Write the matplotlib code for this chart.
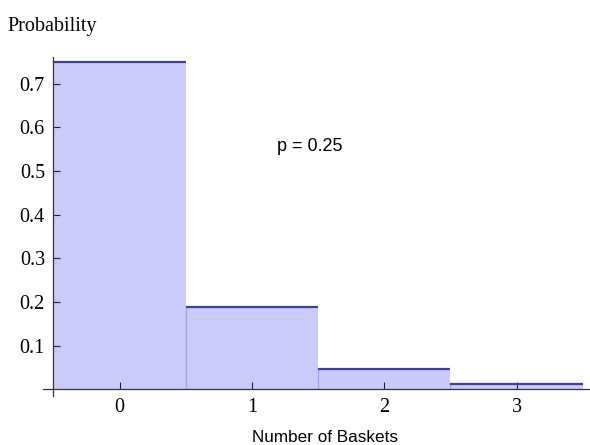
import numpy as np
import matplotlib.pyplot as plt

baskets = [0, 1, 2, 3]
prob = [0.75, 0.1875, 0.046875, 0.01171875]
yticks = [0.1, 0.2, 0.3, 0.4, 0.5, 0.6, 0.7]
xticks = [0, 1, 2, 3]

fill = '#cbcbfb'
top = '#3f3fa3'
side = '#a4a4ee'

fig = plt.figure(figsize=(5.9, 4.45), dpi=100)
ax = fig.add_axes([43 / 590, 49 / 445, 547 / 590, 339 / 445])

ax.bar(baskets, prob, width=1.0, color=fill, edgecolor='none', zorder=1)
x = np.array(baskets)
p = np.array(prob)
ax.hlines(p, x - 0.5, x + 0.5, color=top, lw=1.6, zorder=3)
ax.vlines(x[1:] - 0.5, 0, p[1:], color=side, lw=1.0, zorder=2)

ax.set_xlim(-0.578, 3.554)
ax.set_ylim(-0.0153, 0.761)

for s in ['top', 'right']:
    ax.spines[s].set_visible(False)
ax.spines['left'].set_position(('data', -0.5))
ax.spines['bottom'].set_position(('data', 0))
for s in ['left', 'bottom']:
    ax.spines[s].set_color('#333333')
    ax.spines[s].set_linewidth(0.9)
ax.spines['left'].set_zorder(4)

ax.set_xticks(xticks)
ax.set_yticks(yticks)
ax.set_yticklabels(['0.1', '0.2', '0.3', '0.4', '0.5', '0.6', '0.7'])
ax.tick_params(axis='both', direction='in', length=5, width=0.8, color='#222222',
               labelsize=14.5, pad=6)
for lab in ax.get_xticklabels() + ax.get_yticklabels():
    lab.set_family('Liberation Serif')

fig.text(7 / 590, 1 - 27 / 445, 'Probability', family='Liberation Serif',
         fontsize=14.5, ha='left', va='center')
fig.text(325 / 590, 1 - 437 / 445, 'Number of Baskets', family='Liberation Sans',
         fontsize=12.3, ha='center', va='center')
ax.text(1.19, 0.557, 'p = 0.25', family='Liberation Sans', fontsize=13,
        ha='left', va='center')

plt.savefig('out.png', dpi=100)
